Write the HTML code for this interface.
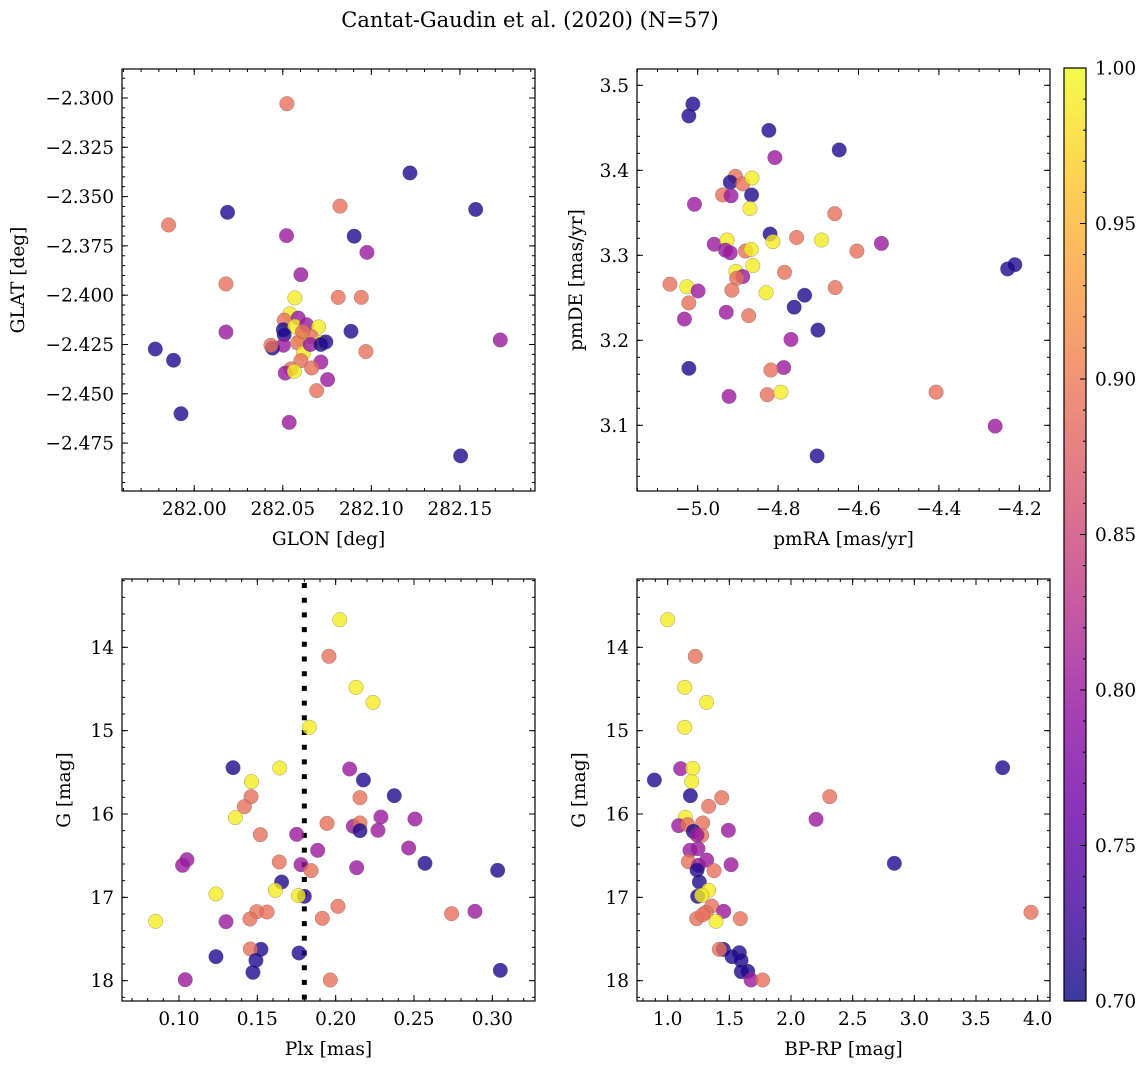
<!DOCTYPE html>
<html><head><meta charset="utf-8"><style>
html,body{margin:0;padding:0;background:#fff;}
svg{display:block;font-family:"DejaVu Serif","Liberation Serif",serif;}
</style></head><body>
<svg id="fig" width="1148" height="1068" viewBox="0 0 1148 1068" xmlns="http://www.w3.org/2000/svg">
<text x="530" y="27" font-size="21" text-anchor="middle">Cantat-Gaudin et al. (2020) (N=57)</text>
</svg>
<script>
// ---- Panel 1: GLON vs GLAT ----
const p1x=[282.0523,282.1218,282.1589,282.0188,282.0823,281.9855,282.0521,282.0903,282.0975,282.0602,282.0179,282.0568,282.0813,282.0943,282.0179,282.0885,282.1728,281.978,281.9883,281.9925,282.0536,282.1504,282.0969,282.054,282.0508,282.0587,282.0503,282.0568,282.0634,282.0702,282.0659,282.0602,282.0715,282.0743,282.0508,282.0503,282.0442,282.0433,282.0583,282.0617,282.0602,282.0715,282.0663,282.0546,282.0514,282.0565,282.0753,282.0691,282.0655,282.0715,282.0612];
const p1y=[-2.3029,-2.338,-2.3565,-2.358,-2.3548,-2.3644,-2.3698,-2.3701,-2.3783,-2.3896,-2.3943,-2.4014,-2.4011,-2.4011,-2.4187,-2.4183,-2.4227,-2.4273,-2.433,-2.4601,-2.4645,-2.4815,-2.4286,-2.4095,-2.4127,-2.4116,-2.4175,-2.4158,-2.415,-2.4161,-2.4209,-2.422,-2.4239,-2.4237,-2.42,-2.4254,-2.4268,-2.4254,-2.4242,-2.4293,-2.4332,-2.4339,-2.4369,-2.4374,-2.4395,-2.4386,-2.4428,-2.4484,-2.425,-2.4250,-2.4185];
const p1p=[0.89,0.71,0.71,0.71,0.89,0.89,0.8,0.71,0.8,0.8,0.89,0.99,0.89,0.89,0.8,0.71,0.8,0.71,0.71,0.71,0.8,0.71,0.89,0.99,0.89,0.8,0.71,0.99,0.8,0.99,0.89,0.99,0.99,0.71,0.71,0.8,0.71,0.89,0.89,0.99,0.89,0.8,0.89,0.89,0.8,0.99,0.8,0.89,0.8,0.71,0.89];
// ---- Panel 2: pmRA vs pmDE ----
const p2x=[-5.012,-5.022,-4.823,-4.648,-4.808,-4.906,-4.919,-4.888,-4.865,-4.938,-4.917,-4.866,-5.008,-4.870,-4.659,-4.820,-4.813,-4.754,-4.692,-4.543,-4.959,-4.927,-4.931,-4.919,-4.881,-4.867,-4.604,-4.863,-4.905,-4.888,-4.903,-4.784,-4.229,-4.211,-5.069,-5.027,-4.999,-4.915,-4.830,-4.658,-4.734,-5.022,-4.760,-5.033,-4.929,-4.873,-4.701,-4.768,-5.022,-4.786,-4.818,-4.922,-4.827,-4.793,-4.407,-4.260,-4.703];
const p2y=[3.478,3.464,3.447,3.424,3.415,3.393,3.386,3.384,3.391,3.371,3.370,3.371,3.360,3.355,3.349,3.325,3.316,3.321,3.318,3.314,3.313,3.318,3.306,3.303,3.305,3.307,3.305,3.288,3.281,3.275,3.273,3.280,3.284,3.289,3.266,3.263,3.258,3.259,3.256,3.262,3.253,3.244,3.239,3.225,3.233,3.229,3.212,3.201,3.167,3.168,3.165,3.134,3.136,3.139,3.139,3.099,3.064];
const p2p=[0.71,0.71,0.71,0.71,0.8,0.89,0.71,0.89,0.99,0.89,0.8,0.71,0.8,0.99,0.89,0.71,0.99,0.89,0.99,0.8,0.8,0.99,0.8,0.8,0.89,0.99,0.89,0.99,0.99,0.8,0.89,0.89,0.71,0.71,0.89,0.99,0.8,0.89,0.99,0.89,0.71,0.89,0.71,0.8,0.8,0.89,0.71,0.8,0.71,0.8,0.89,0.8,0.89,0.99,0.89,0.8,0.71];
// ---- Panel 3: Plx vs G ----
const p3x=[0.2026,0.1957,0.2130,0.2238,0.1832,0.1345,0.1643,0.2089,0.1462,0.2177,0.2374,0.1460,0.2155,0.1417,0.1360,0.2289,0.2506,0.1945,0.2113,0.2155,0.2155,0.2270,0.1519,0.1751,0.1885,0.2466,0.1051,0.1023,0.1640,0.1779,0.1843,0.2134,0.2570,0.3034,0.1655,0.1615,0.1236,0.1800,0.1762,0.2015,0.1496,0.1562,0.1453,0.1915,0.1300,0.0851,0.2740,0.2889,0.1523,0.1455,0.1766,0.1236,0.1491,0.1472,0.3051,0.1040,0.1966];
const p3y=[13.668,14.108,14.48,14.66,14.96,15.444,15.448,15.46,15.612,15.592,15.78,15.792,15.804,15.912,16.044,16.036,16.06,16.112,16.148,16.108,16.2,16.196,16.248,16.244,16.436,16.408,16.548,16.616,16.576,16.608,16.68,16.644,16.592,16.676,16.816,16.916,16.96,16.988,16.98,17.108,17.172,17.176,17.26,17.252,17.292,17.288,17.196,17.168,17.624,17.62,17.668,17.712,17.756,17.9,17.876,17.988,17.992];
const p3p=[0.99,0.89,0.99,0.99,0.99,0.71,0.99,0.8,0.99,0.71,0.71,0.89,0.89,0.89,0.99,0.8,0.8,0.89,0.8,0.89,0.71,0.8,0.89,0.8,0.8,0.8,0.8,0.8,0.89,0.8,0.89,0.8,0.71,0.71,0.71,0.99,0.99,0.71,0.99,0.89,0.89,0.89,0.89,0.89,0.8,0.99,0.89,0.8,0.71,0.89,0.71,0.71,0.71,0.71,0.71,0.8,0.89];
const plxCut=[0.18];
// ---- Panel 4: BP-RP vs G ----
const p4x=[1.0,1.224,1.138,1.316,1.138,1.105,1.203,3.716,0.892,1.195,1.184,1.438,2.314,1.332,1.143,2.203,1.284,1.089,1.162,1.492,1.208,1.276,1.238,1.181,1.246,1.316,1.168,1.251,1.514,1.376,1.238,2.838,1.257,1.332,1.243,1.276,1.357,1.454,1.311,3.946,1.235,1.392,1.589,1.284,1.451,1.419,1.581,1.522,1.595,1.597,1.649,1.676,1.770];
const p4y=[13.668,14.108,14.48,14.66,14.96,15.456,15.452,15.444,15.592,15.612,15.78,15.804,15.792,15.908,16.04,16.064,16.108,16.14,16.128,16.196,16.208,16.256,16.252,16.436,16.416,16.552,16.572,16.616,16.608,16.68,16.672,16.592,16.816,16.916,16.988,16.976,17.104,17.168,17.18,17.18,17.256,17.288,17.256,17.208,17.624,17.624,17.664,17.712,17.756,17.892,17.888,17.992,17.992];
const p4p=[0.99,0.89,0.99,0.99,0.99,0.8,0.99,0.71,0.71,0.99,0.71,0.89,0.89,0.89,0.99,0.8,0.89,0.8,0.89,0.8,0.71,0.89,0.8,0.8,0.8,0.8,0.89,0.8,0.8,0.89,0.71,0.71,0.71,0.99,0.71,0.99,0.89,0.8,0.89,0.89,0.89,0.99,0.89,0.89,0.71,0.89,0.71,0.71,0.71,0.71,0.71,0.8,0.89];
// colorbar ticks
const cbTicks=[0.70,0.75,0.80,0.85,0.90,0.95,1.00];

const NS="http://www.w3.org/2000/svg";
const svg=document.getElementById('fig');
const FS=18.5;
function mk(tag,attrs,parent){const e=document.createElementNS(NS,tag);for(const k in attrs)e.setAttribute(k,attrs[k]);(parent||svg).appendChild(e);return e;}
const stops=[[13,8,135],[65,4,157],[106,0,168],[143,13,164],[177,42,144],[204,71,120],[225,100,98],[242,132,75],[252,166,54],[252,206,37],[240,249,33]];
function plasma(t){t=Math.max(0,Math.min(1,t));const f=t*10,i=Math.min(9,Math.floor(f)),u=f-i;const a=stops[i],b=stops[i+1];return 'rgb('+[0,1,2].map(k=>Math.round(a[k]+(b[k]-a[k])*u)).join(',')+')';}
const vmin=0.7,vmax=1.0;
function fmtMinus(s){return s.replace('-','\u2212');}

function panel(cfg){
  const {L,T,R,B,x0,x1,y0,y1,name}=cfg;
  const sx=v=>L+(v-x0)/(x1-x0)*(R-L);
  const sy=v=>T+(v-y0)/(y1-y0)*(B-T);
  const g=mk('g',{});
  
  
  const clipId='clip-'+name;
  const cp=mk('clipPath',{id:clipId},g);mk('rect',{x:L,y:T,width:R-L,height:B-T},cp);
  const pts=mk('g',{'clip-path':'url(#'+clipId+')'},g);
  if(cfg.vline){cfg.vline.forEach(v=>{const ln=mk('line',{x1:sx(v),x2:sx(v),y1:T+4,y2:B,stroke:'#000','stroke-width':5,'stroke-dasharray':'5 9.7'},pts);
    
    });}
  cfg.xs.forEach((xv,i)=>{const c=mk('circle',{cx:sx(xv),cy:sy(cfg.ys[i]),r:7.3,fill:plasma((cfg.ps[i]-vmin)/(vmax-vmin)),'fill-opacity':0.8,stroke:'#666','stroke-opacity':0.6,'stroke-width':0.5},pts);
    
    });
  mk('rect',{x:L,y:T,width:R-L,height:B-T,fill:'none',stroke:'#000','stroke-width':1.2},g);
  const eps=1e-9;
  function ticksX(step,len,labels){const lo=Math.ceil(Math.min(x0,x1)/step-eps),hi=Math.floor(Math.max(x0,x1)/step+eps);
    for(let k=lo;k<=hi;k++){const v=k*step,x=sx(v);mk('line',{x1:x,x2:x,y1:B,y2:B-len,stroke:'#000','stroke-width':1},g);mk('line',{x1:x,x2:x,y1:T,y2:T+len,stroke:'#000','stroke-width':1},g);
      if(labels){const t=mk('text',{x:x,y:B+24,'font-size':FS,'text-anchor':'middle'},g);t.textContent=fmtMinus(v.toFixed(cfg.xd));
        
        }}}
  function ticksY(step,len,labels){const lo=Math.ceil(Math.min(y0,y1)/step-eps),hi=Math.floor(Math.max(y0,y1)/step+eps);
    for(let k=lo;k<=hi;k++){const v=k*step,y=sy(v);mk('line',{x1:L,x2:L+len,y1:y,y2:y,stroke:'#000','stroke-width':1},g);mk('line',{x1:R,x2:R-len,y1:y,y2:y,stroke:'#000','stroke-width':1},g);
      if(labels){const t=mk('text',{x:L-8,y:y+6.5,'font-size':FS,'text-anchor':'end'},g);t.textContent=fmtMinus(v.toFixed(cfg.yd));
        
        }}}
  ticksX(cfg.xmaj,6,true);ticksX(cfg.xmin,3,false);ticksY(cfg.ymaj,6,true);ticksY(cfg.ymin,3,false);
  const xl=mk('text',{x:(L+R)/2,y:B+54,'font-size':FS,'text-anchor':'middle'},g);xl.textContent=cfg.xlabel;
  
  
  const yl=mk('text',{x:0,y:0,'font-size':FS,'text-anchor':'middle',transform:'translate('+cfg.ylx+','+(T+B)/2+') rotate(-90)'},g);yl.textContent=cfg.ylabel;
  
  
}
panel({name:'panel-sky',L:122,T:69,R:535,B:491,x0:281.9592,x1:282.1924,y0:-2.2853,y1:-2.4993,xs:p1x,ys:p1y,ps:p1p,xmaj:0.05,xmin:0.01,ymaj:0.025,ymin:0.005,xd:2,yd:3,xlabel:'GLON [deg]',ylabel:'GLAT [deg]',ylx:24});
panel({name:'panel-pm',L:637,T:69,R:1050,B:491,x0:-5.151,x1:-4.1236,y0:3.5192,y1:3.0227,xs:p2x,ys:p2y,ps:p2p,xmaj:0.2,xmin:0.05,ymaj:0.1,ymin:0.02,xd:1,yd:1,xlabel:'pmRA [mas/yr]',ylabel:'pmDE [mas/yr]',ylx:582});
panel({name:'panel-plx',L:122,T:579,R:535,B:1001,x0:0.06362,x1:0.32723,y0:13.18,y1:18.244,xs:p3x,ys:p3y,ps:p3p,xmaj:0.05,xmin:0.01,ymaj:1,ymin:0.2,xd:2,yd:0,xlabel:'Plx [mas]',ylabel:'G [mag]',ylx:70,vline:plxCut});
panel({name:'panel-cmd',L:637,T:579,R:1050,B:1001,x0:0.7513,x1:4.1,y0:13.18,y1:18.244,xs:p4x,ys:p4y,ps:p4p,xmaj:0.5,xmin:0.1,ymaj:1,ymin:0.2,xd:1,yd:0,xlabel:'BP-RP [mag]',ylabel:'G [mag]',ylx:585});

// colorbar
const cb=mk('g',{});


const CL=1064,CR=1086,CT=68,CB=1001;
const defs=mk('defs',{},cb);const lg=mk('linearGradient',{id:'cbg',x1:0,y1:1,x2:0,y2:0},defs);
for(let i=0;i<=20;i++){mk('stop',{offset:(i/20),'stop-color':plasma(i/20)},lg);}
mk('rect',{x:CL,y:CT,width:CR-CL,height:CB-CT,fill:'url(#cbg)','fill-opacity':0.8},cb);
mk('rect',{x:CL,y:CT,width:CR-CL,height:CB-CT,fill:'none',stroke:'#000','stroke-width':1.2},cb);
const cy=v=>CB-(v-vmin)/(vmax-vmin)*(CB-CT);
for(let k=70;k<=100;k++){const v=k/100,y=cy(v),maj=(k%5===0);mk('line',{x1:CR,x2:CR-(maj?6:3),y1:y,y2:y,stroke:'#000','stroke-width':1},cb);}
cbTicks.forEach(v=>{const t=mk('text',{x:CR+9,y:cy(v)+6.5,'font-size':FS},cb);t.textContent=v.toFixed(2);
  
  });
</script>
</body></html>
